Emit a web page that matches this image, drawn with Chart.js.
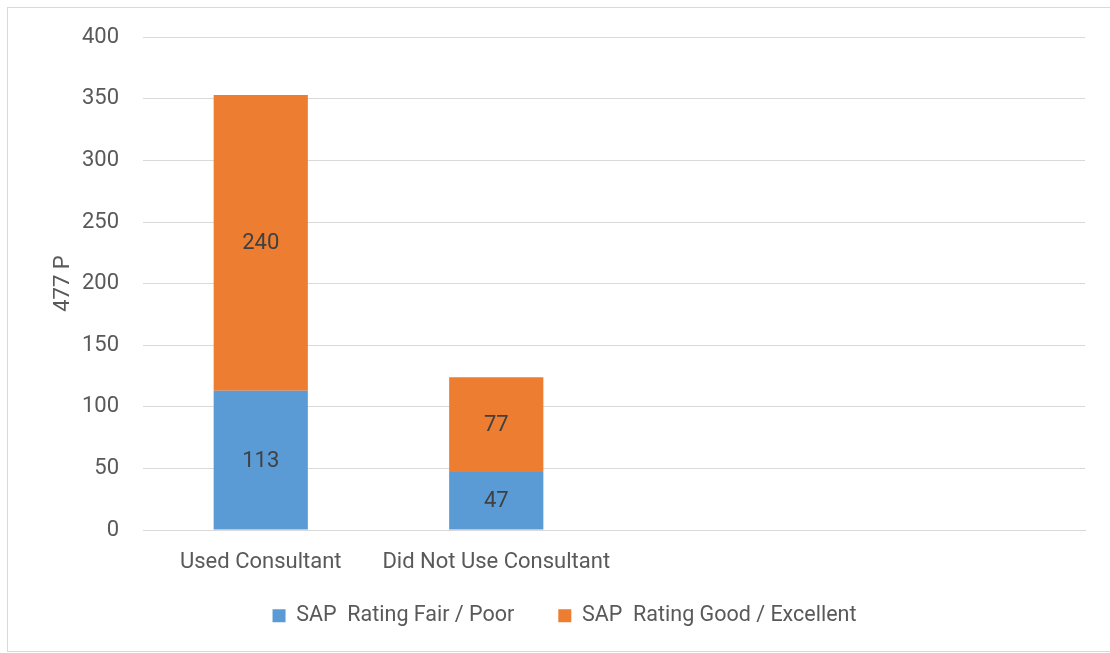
<!DOCTYPE html>
<html>
<head>
<meta charset="utf-8">
<script src="https://cdn.jsdelivr.net/npm/chart.js@4"></script>
<style>
  body { margin: 0; background: #fff; }
  #frame {
    position: absolute; left: 7px; top: 7px;
    width: 1120px; height: 645px;
    border: 1px solid #d9d9d9; box-sizing: border-box;
  }
  #holder { position: absolute; left: 0; top: 0; width: 1110px; height: 653px; }
</style>
</head>
<body>
<div id="frame"></div>
<div id="holder"><canvas id="sapChart"></canvas></div>
<script>
const categories = ["Used Consultant", "Did Not Use Consultant", "", ""];
const fairPoor = [113, 47, null, null];
const goodExcellent = [240, 77, null, null];
const seriesNames = ["SAP  Rating Fair / Poor", "SAP  Rating Good / Excellent"];
const yAxisTitle = "477 P";

const FONT = "'Liberation Sans Narrow', 'Roboto', sans-serif";
const TEXT = "#595959";

// draws the value in the middle of each stacked segment
const segmentLabels = {
  id: "segmentLabels",
  afterDatasetsDraw(chart) {
    const { ctx } = chart;
    ctx.save();
    ctx.font = "22px " + FONT;
    ctx.fillStyle = "#404040";
    ctx.textAlign = "center";
    ctx.textBaseline = "middle";
    chart.data.datasets.forEach((ds, i) => {
      chart.getDatasetMeta(i).data.forEach((bar, j) => {
        if (ds.data[j] == null) return;
        const { x, y, base } = bar.getProps(["x", "y", "base"], true);
        ctx.fillText(String(ds.data[j]), x, (y + base) / 2 + 1);
      });
    });
    ctx.restore();
  },
};

// wide gap between legend items means big label padding, which would also
// push the legend down - so cap its height and pull its top back up
const legendSpot = {
  id: "legendSpot",
  beforeInit(chart) {
    const fit = chart.legend.fit;
    chart.legend.fit = function () {
      fit.bind(chart.legend)();
      this.height = 61;
    };
  },
  afterLayout(chart) {
    chart.legend.top -= 31;
  },
};

new Chart(document.getElementById("sapChart"), {
  type: "bar",
  data: {
    labels: categories,
    datasets: [
      {
        label: seriesNames[0],
        data: fairPoor,
        backgroundColor: "#5b9bd5",
        categoryPercentage: 1,
        barPercentage: 0.4,
      },
      {
        label: seriesNames[1],
        data: goodExcellent,
        backgroundColor: "#ed7d31",
        categoryPercentage: 1,
        barPercentage: 0.4,
      },
    ],
  },
  options: {
    responsive: true,
    maintainAspectRatio: false,
    animation: false,
    layout: { padding: { top: 36, right: 25, left: 44, bottom: 0 } },
    plugins: {
      tooltip: { enabled: false },
      legend: {
        position: "bottom",
        labels: {
          boxWidth: 13,
          boxHeight: 13,
          padding: 44,
          color: TEXT,
          font: { family: FONT, size: 21.5 },
        },
      },
    },
    scales: {
      x: {
        stacked: true,
        afterFit: (scale) => { scale.height = 62; },
        grid: { display: false, drawTicks: false },
        border: { color: "#d9d9d9", width: 1 },
        ticks: {
          color: TEXT,
          padding: 19,
          maxRotation: 0,
          autoSkip: false,
          font: { family: FONT, size: 22 },
        },
      },
      y: {
        stacked: true,
        min: 0,
        max: 400,
        afterFit: (scale) => { scale.width = 99; },
        grid: { color: "#d9d9d9", drawTicks: false },
        border: { display: false },
        ticks: {
          stepSize: 50,
          color: TEXT,
          padding: 24,
          font: { family: FONT, size: 22 },
        },
        title: {
          display: true,
          text: yAxisTitle,
          color: TEXT,
          padding: { top: 6, bottom: 0 },
          font: { family: FONT, size: 22 },
        },
      },
    },
  },
  plugins: [segmentLabels, legendSpot],
});
</script>
</body>
</html>
